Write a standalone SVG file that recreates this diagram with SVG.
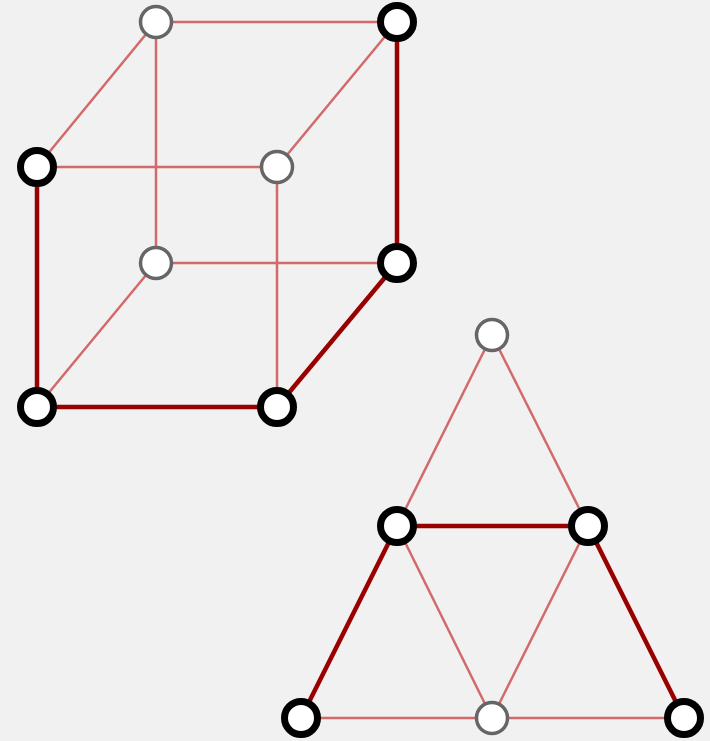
<svg xmlns="http://www.w3.org/2000/svg" width="710" height="741" viewBox="0 0 710 741">
<style>
.bg{fill:#f1f1f1}
.lt{stroke:#d26a6a;stroke-width:2.5;fill:none}
.dk{stroke:#990000;stroke-width:4.5;fill:none}
.g{fill:#ffffff;stroke:#666666;stroke-width:3.5}
.b{fill:#ffffff;stroke:#000000;stroke-width:7}
</style>
<rect class="bg" x="0" y="0" width="710" height="741"/>
<g id="connectors">
<line class="lt" x1="156" y1="22" x2="397" y2="22"/>
<line class="lt" x1="156" y1="22" x2="37" y2="167"/>
<line class="lt" x1="156" y1="22" x2="156" y2="263"/>
<line class="lt" x1="397" y1="22" x2="277" y2="167"/>
<line class="lt" x1="37" y1="167" x2="277" y2="167"/>
<line class="lt" x1="277" y1="167" x2="277" y2="407"/>
<line class="lt" x1="156" y1="263" x2="397" y2="263"/>
<line class="lt" x1="156" y1="263" x2="37" y2="407"/>
<line class="dk" x1="397" y1="22" x2="397" y2="263"/>
<line class="dk" x1="37" y1="167" x2="37" y2="407"/>
<line class="dk" x1="397" y1="263" x2="277" y2="407"/>
<line class="dk" x1="37" y1="407" x2="277" y2="407"/>
<line class="lt" x1="492" y1="335" x2="397" y2="526"/>
<line class="lt" x1="492" y1="335" x2="588" y2="526"/>
<line class="lt" x1="397" y1="526" x2="492" y2="718"/>
<line class="lt" x1="588" y1="526" x2="492" y2="718"/>
<line class="lt" x1="301" y1="718" x2="492" y2="718"/>
<line class="lt" x1="492" y1="718" x2="684" y2="718"/>
<line class="dk" x1="397" y1="526" x2="588" y2="526"/>
<line class="dk" x1="397" y1="526" x2="301" y2="718"/>
<line class="dk" x1="588" y1="526" x2="684" y2="718"/>
</g>
<g id="c1"><circle class="g" cx="156" cy="22" r="15.5"/></g>
<g id="c2"><circle class="b" cx="397" cy="22" r="16.5"/></g>
<g id="c3"><circle class="b" cx="37" cy="167" r="16.5"/></g>
<g id="c4"><circle class="g" cx="277" cy="167" r="15.5"/></g>
<g id="c5"><circle class="g" cx="156" cy="263" r="15.5"/></g>
<g id="c6"><circle class="b" cx="397" cy="263" r="16.5"/></g>
<g id="c7"><circle class="b" cx="37" cy="407" r="16.5"/></g>
<g id="c8"><circle class="b" cx="277" cy="407" r="16.5"/></g>
<g id="t1"><circle class="g" cx="492" cy="335" r="15.5"/></g>
<g id="t2"><circle class="b" cx="397" cy="526" r="16.5"/></g>
<g id="t3"><circle class="b" cx="588" cy="526" r="16.5"/></g>
<g id="t4"><circle class="b" cx="301" cy="718" r="16.5"/></g>
<g id="t5"><circle class="g" cx="492" cy="718" r="15.5"/></g>
<g id="t6"><circle class="b" cx="684" cy="718" r="16.5"/></g>
</svg>
